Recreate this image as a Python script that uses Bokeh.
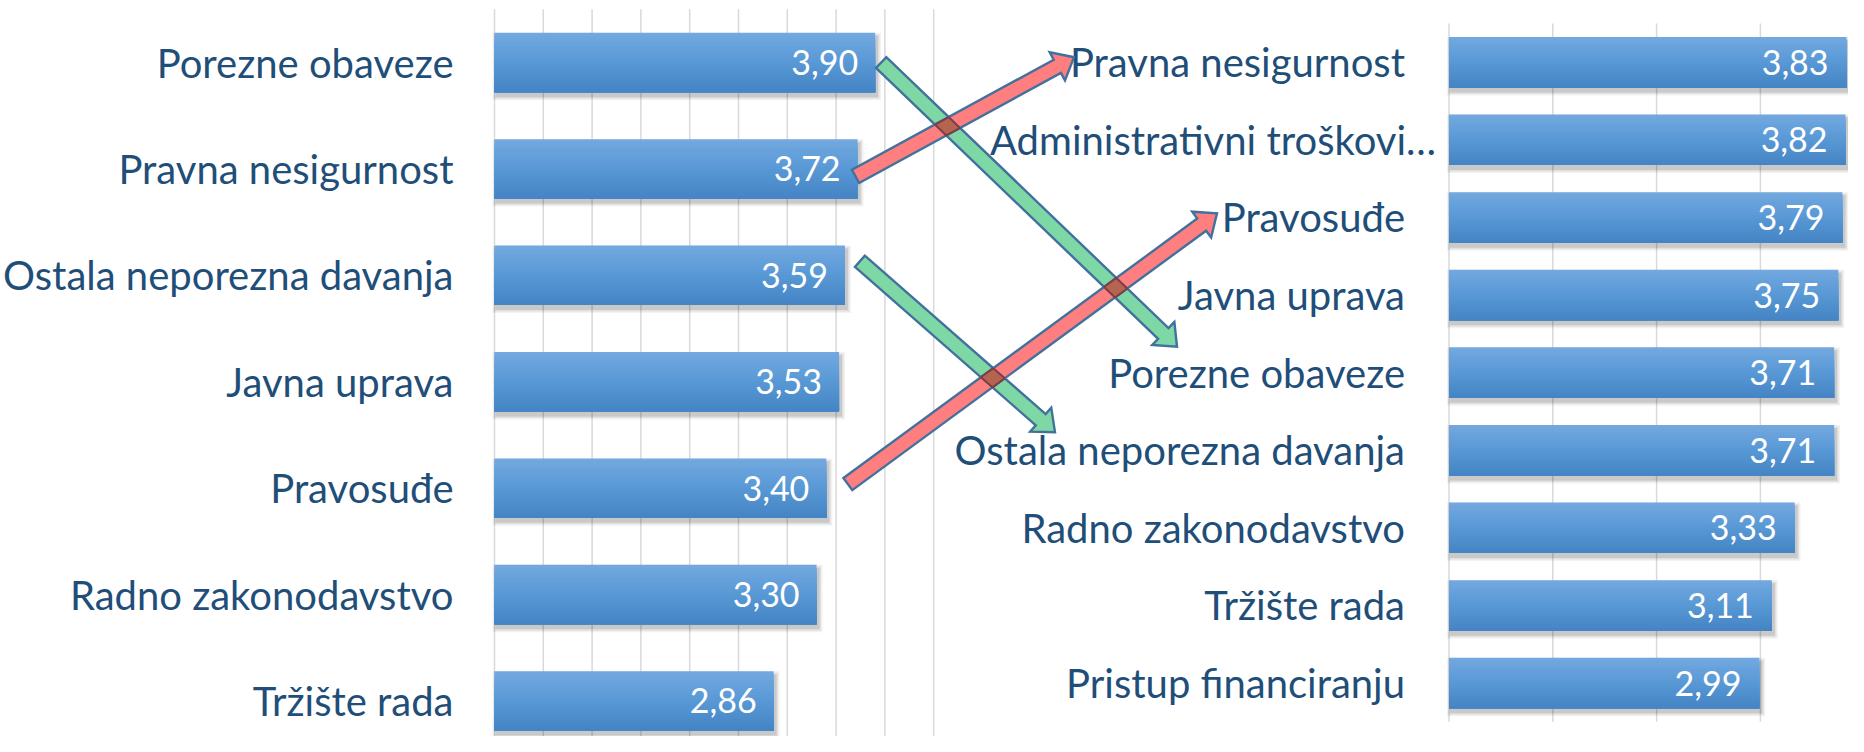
import numpy as np
from bokeh.plotting import figure
from bokeh.models import Range1d
from bokeh.core.properties import value
from bokeh.embed import file_html
from bokeh.resources import INLINE

# ---------------- data ----------------
left_categories = ["Porezne obaveze", "Pravna nesigurnost", "Ostala neporezna davanja",
                   "Javna uprava", "Pravosuđe", "Radno zakonodavstvo", "Tržište rada"]
left_values = [3.90, 3.72, 3.59, 3.53, 3.40, 3.30, 2.86]

right_categories = ["Pravna nesigurnost", "Administrativni troškovi…", "Pravosuđe",
                    "Javna uprava", "Porezne obaveze", "Ostala neporezna davanja",
                    "Radno zakonodavstvo", "Tržište rada", "Pristup financiranju"]
right_values = [3.83, 3.82, 3.79, 3.75, 3.71, 3.71, 3.33, 3.11, 2.99]

left_grid_ticks = [0, 0.5, 1.0, 1.5, 2.0, 2.5, 3.0, 3.5, 4.0, 4.5]
right_grid_ticks = [0, 1, 2, 3, 4]

arrow_categories = ["Porezne obaveze", "Ostala neporezna davanja", "Pravna nesigurnost", "Pravosuđe"]

# ---------------- layout (canvas pixels) ----------------
W, H = 1848, 736
L0, LS = 494.0, 97.6      # left chart: x pixel of value 0, pixels per unit
LY0, LYS = 62.0, 106.4    # left chart: y pixel of first row, pixels per row
R0, RS = 1448.5, 103.8
RY0, RYS = 61.7, 77.6
LEFT_LABEL_OFF = -41
RIGHT_LABEL_OFF = -44

def lpx(v): return L0 + v * LS
def lpy(i): return LY0 + i * LYS
def rpx(v): return R0 + v * RS
def rpy(j): return RY0 + j * RYS

p = figure(width=W, height=H,
           x_range=Range1d(-L0 / LS, (W - L0) / LS),
           y_range=Range1d((H - LY0) / LYS, -LY0 / LYS),
           output_backend="svg", toolbar_location=None,
           x_axis_location=None, y_axis_location=None, min_border=0)
p.extra_x_ranges = {"rx": Range1d(-R0 / RS, (W - R0) / RS), "px": Range1d(0, W)}
p.extra_y_ranges = {"ry": Range1d((H - RY0) / RYS, -RY0 / RYS), "py": Range1d(H, 0)}
p.grid.visible = False
p.outline_line_color = None
p.background_fill_color = "white"
p.border_fill_color = "white"

GRID = "#d9d9d9"
TXT = "#1f4e79"
FONT = value("Lato")

# ---------------- grid lines ----------------
nl, nr = len(left_categories), len(right_categories)
p.segment(x0=left_grid_ticks, x1=left_grid_ticks,
          y0=[-0.5] * len(left_grid_ticks), y1=[nl] * len(left_grid_ticks),
          line_color=GRID, line_width=1.5)
p.segment(x0=right_grid_ticks, x1=right_grid_ticks,
          y0=[-0.5] * len(right_grid_ticks), y1=[nr - 0.5] * len(right_grid_ticks),
          line_color=GRID, line_width=1.5, x_range_name="rx", y_range_name="ry")

# ---------------- bars with shadow + gradient ----------------
def hexc(c):
    return np.array([int(c[i:i + 2], 16) for i in (1, 3, 5)], dtype=float)

top_c, mid_c, bot_c = hexc("#72a8df"), hexc("#5898d5"), hexc("#4585c5")

def grad(t):
    c = top_c + (mid_c - top_c) * (t / 0.5) if t < 0.5 else mid_c + (bot_c - mid_c) * ((t - 0.5) / 0.5)
    return "#%02x%02x%02x" % tuple(int(round(x)) for x in c)

def draw_bars(vals, sx, sy, bh, **rn):
    n = len(vals)
    idx = list(range(n))
    # soft shadow
    for g, a in [(4.0, 0.05), (2.5, 0.07), (1.0, 0.10)]:
        p.hbar(y=[i + 4.0 / sy for i in idx], height=bh + 2 * g / sy,
               left=[(2 - g) / sx] * n, right=[v + (2 + g) / sx for v in vals],
               fill_color="black", fill_alpha=a, line_color=None, **rn)
    # vertical gradient: each layer covers from its start down to the bar bottom
    N = 20
    for k in range(N):
        t = k / (N - 1)
        top = [i - bh / 2 + k * bh / N for i in idx]
        bottom = [i + bh / 2 for i in idx]
        p.quad(top=top, bottom=bottom, left=0, right=vals,
               fill_color=grad(t), line_color=None, **rn)

draw_bars(left_values, LS, LYS, 59.4 / LYS)
draw_bars(right_values, RS, RYS, 50.5 / RYS, x_range_name="rx", y_range_name="ry")

def fmt(v): return f"{v:.2f}".replace(".", ",")

# value labels
p.text(x=left_values, y=list(range(nl)), text=[fmt(v) for v in left_values],
       x_offset=-17, text_align="right", text_baseline="middle",
       text_font=FONT, text_font_size="34px", text_color="white")
p.text(x=right_values, y=list(range(nr)), text=[fmt(v) for v in right_values],
       x_offset=-18, text_align="right", text_baseline="middle",
       text_font=FONT, text_font_size="34px", text_color="white",
       x_range_name="rx", y_range_name="ry")

# category labels
p.text(x=[0] * nl, y=list(range(nl)), text=left_categories, x_offset=LEFT_LABEL_OFF,
       text_align="right", text_baseline="middle",
       text_font=FONT, text_font_size="40px", text_color=TXT)
r_off = [-13 if c.endswith("…") else RIGHT_LABEL_OFF for c in right_categories]
p.text(x=[0] * nr, y=list(range(nr)), text=right_categories, x_offset=r_off,
       text_align="right", text_baseline="middle",
       text_font=FONT, text_font_size="40px", text_color=TXT,
       x_range_name="rx", y_range_name="ry")

# ---------------- arrows (pixel space, anchored to data) ----------------
# tail offset from left bar end / row centre; tip offset from right label anchor / row centre
tail_off = {"Porezne obaveze": (6, 0), "Pravna nesigurnost": (-2, 7.5),
            "Ostala neporezna davanja": (15, -14), "Pravosuđe": (21.5, -4)}
tip_off = {"Porezne obaveze": (-228, -26), "Pravna nesigurnost": (-331, -5),
           "Ostala neporezna davanja": (-350, -18), "Pravosuđe": (-188, -4)}

SW, HW, HL = 7.5, 16.0, 19.0

def endpoints(cat):
    i = left_categories.index(cat)
    j = right_categories.index(cat)
    T = np.array([lpx(left_values[i]) + tail_off[cat][0], lpy(i) + tail_off[cat][1]])
    Hh = np.array([rpx(0) + RIGHT_LABEL_OFF + tip_off[cat][0], rpy(j) + tip_off[cat][1]])
    return T, Hh, j < i

shafts = {}
for cat in arrow_categories:
    T, Hh, up = endpoints(cat)
    u = (Hh - T) / np.linalg.norm(Hh - T)
    nvec = np.array([-u[1], u[0]])
    B = Hh - HL * u
    pts = [T + SW * nvec, B + SW * nvec, B + HW * nvec, Hh, B - HW * nvec, B - SW * nvec, T - SW * nvec]
    fill = "#ff7e80" if up else "#7ed8a6"
    shafts[cat] = (T, u, nvec, np.linalg.norm(Hh - T), up)
    p.patch(x=[q[0] for q in pts], y=[q[1] for q in pts], fill_color=fill,
            line_color="#41719c", line_width=2.4, line_join="miter",
            x_range_name="px", y_range_name="py")

def inter(p1, d1, p2, d2):
    A = np.array([d1, -d2]).T
    t = np.linalg.solve(A, p2 - p1)
    return p1 + t[0] * d1

greens = [c for c in arrow_categories if not shafts[c][4]]
reds = [c for c in arrow_categories if shafts[c][4]]
for g in greens:
    for r in reds:
        Tg, ug, ng, Lg, _ = shafts[g]
        Tr, ur, nr_, Lr, _ = shafts[r]
        corners = [inter(Tg + a * SW * ng, ug, Tr + b * SW * nr_, ur)
                   for a, b in [(1, 1), (1, -1), (-1, -1), (-1, 1)]]
        c0 = np.mean(corners, axis=0)
        tg = np.dot(c0 - Tg, ug)
        tr = np.dot(c0 - Tr, ur)
        if 0 < tg < Lg - HL and 0 < tr < Lr - HL:
            p.patch(x=[q[0] for q in corners], y=[q[1] for q in corners],
                    fill_color="#b5644f", line_color="#7d3d47", line_width=2,
                    x_range_name="px", y_range_name="py")

open("out.html", "w").write(file_html(p, INLINE))
